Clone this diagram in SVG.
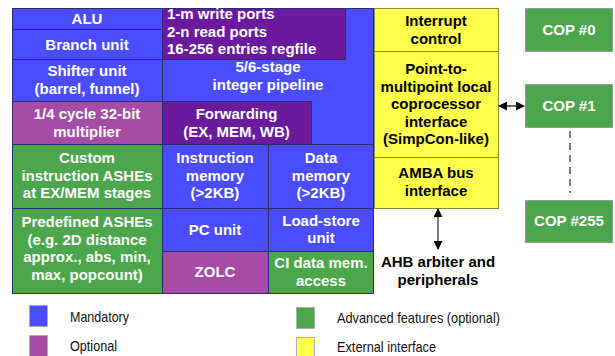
<svg xmlns="http://www.w3.org/2000/svg" width="615" height="356" viewBox="0 0 615 356">
  <defs>
    <style>
      .blk { stroke: #2c2c70; stroke-width: 1; }
      .mand { fill: #4c4cff; }
      .core { fill: #6b1a9e; }
      .opt { fill: #a64ca6; }
      .adv { fill: #4ca64c; }
      .ext { fill: #ffff4c; stroke: #8a8a30; stroke-width: 1; }
      .cop { fill: #4ca64c; stroke: #9a9a9a; stroke-width: 1; }
      .w { font-family: "Liberation Sans", Arial, sans-serif; font-size: 15px; font-weight: bold; fill: #ffffff; text-anchor: middle; }
      .wl { font-family: "Liberation Sans", Arial, sans-serif; font-size: 15px; font-weight: bold; fill: #ffffff; }
      .k { font-family: "Liberation Sans", Arial, sans-serif; font-size: 15px; font-weight: bold; fill: #000000; text-anchor: middle; }
      .lg { font-family: "Liberation Sans", Arial, sans-serif; font-size: 15px; fill: #111111; }
      .sw { stroke: #b0b0b0; stroke-width: 1; }
    </style>
    <marker id="head" viewBox="0 0 10 10" refX="9" refY="5" markerWidth="9" markerHeight="9" markerUnits="userSpaceOnUse" orient="auto-start-reverse">
      <path d="M0,0 L10,5 L0,10 Z" fill="#000000"/>
    </marker>
  </defs>

  <rect width="615" height="356" fill="#ffffff"/>

  <!-- left column -->
  <g id="alu"><rect class="blk mand" x="12.5" y="8.5" width="150" height="21"/><text class="w" x="87" y="24">ALU</text></g>
  <g id="branch"><rect class="blk mand" x="12.5" y="29.5" width="150" height="30"/><text class="w" x="87" y="49.5">Branch unit</text></g>
  <g id="shifter"><rect class="blk mand" x="12.5" y="59.5" width="150" height="42"/><text class="w" x="87" y="76">Shifter unit</text><text class="w" x="87" y="93.5">(barrel, funnel)</text></g>
  <g id="multiplier"><rect class="blk opt" x="12.5" y="101.5" width="150" height="43"/><text class="w" x="87" y="119">1/4 cycle 32-bit</text><text class="w" x="87" y="136.5">multiplier</text></g>
  <g id="custom-ashe"><rect class="blk adv" x="12.5" y="144.5" width="150" height="64"/><text class="w" x="87" y="163">Custom</text><text class="w" x="87" y="180.5">instruction ASHEs</text><text class="w" x="87" y="198">at EX/MEM stages</text></g>
  <g id="predefined-ashe"><rect class="blk adv" x="12.5" y="208.5" width="150" height="85"/><text class="w" x="87" y="227">Predefined ASHEs</text><text class="w" x="87" y="244.5">(e.g. 2D distance</text><text class="w" x="87" y="262">approx., abs, min,</text><text class="w" x="87" y="279.5">max, popcount)</text></g>

  <!-- pipeline area -->
  <g id="pipeline"><rect class="blk mand" x="162.5" y="8.5" width="211" height="136"/><text class="w" x="268" y="72">5/6-stage</text><text class="w" x="268" y="89.5">integer pipeline</text></g>
  <g id="regfile"><rect class="blk core" x="162.5" y="8.5" width="183" height="51"/><text class="wl" x="167" y="19">1-m write ports</text><text class="wl" x="167" y="36.5">2-n read ports</text><text class="wl" x="167" y="54">16-256 entries regfile</text></g>
  <g id="forwarding"><rect class="blk core" x="162.5" y="101.5" width="149" height="43"/><text class="w" x="236.5" y="119">Forwarding</text><text class="w" x="236.5" y="136.5">(EX, MEM, WB)</text></g>

  <!-- memories and units -->
  <g id="imem"><rect class="blk mand" x="162.5" y="144.5" width="106" height="64"/><text class="w" x="215" y="163">Instruction</text><text class="w" x="215" y="180.5">memory</text><text class="w" x="215" y="198">(&gt;2KB)</text></g>
  <g id="dmem"><rect class="blk mand" x="268.5" y="144.5" width="105" height="64"/><text class="w" x="321" y="163">Data</text><text class="w" x="321" y="180.5">memory</text><text class="w" x="321" y="198">(&gt;2KB)</text></g>
  <g id="pc-unit"><rect class="blk mand" x="162.5" y="208.5" width="106" height="43"/><text class="w" x="215" y="234.5">PC unit</text></g>
  <g id="load-store"><rect class="blk mand" x="268.5" y="208.5" width="105" height="43"/><text class="w" x="321" y="225.5">Load-store</text><text class="w" x="321" y="243">unit</text></g>
  <g id="zolc"><rect class="blk opt" x="162.5" y="251.5" width="106" height="42"/><text class="w" x="215" y="276.5">ZOLC</text></g>
  <g id="ci-dmem"><rect class="blk adv" x="268.5" y="251.5" width="105" height="42"/><text class="w" x="321" y="268">CI data mem.</text><text class="w" x="321" y="285.5">access</text></g>

  <!-- external interfaces -->
  <g id="interrupt"><rect class="ext" x="374.5" y="8.5" width="124" height="43"/><text class="k" x="436" y="26">Interrupt</text><text class="k" x="436" y="43.5">control</text></g>
  <g id="simpcon"><rect class="ext" x="374.5" y="51.5" width="124" height="106"/><text class="k" x="436" y="74">Point-to-</text><text class="k" x="436" y="91.5">multipoint local</text><text class="k" x="436" y="109">coprocessor</text><text class="k" x="436" y="126.5">interface</text><text class="k" x="436" y="144">(SimpCon-like)</text></g>
  <g id="amba"><rect class="ext" x="374.5" y="157.5" width="124" height="51"/><text class="k" x="436" y="178">AMBA bus</text><text class="k" x="436" y="195.5">interface</text></g>

  <!-- coprocessors -->
  <g id="cop0"><rect class="cop" x="525.5" y="8.5" width="87" height="43"/><text class="w" x="569" y="34.5">COP #0</text></g>
  <g id="cop1"><rect class="cop" x="525.5" y="84.5" width="87" height="43"/><text class="w" x="569" y="110.5">COP #1</text></g>
  <g id="cop255"><rect class="cop" x="525.5" y="200.5" width="87" height="42"/><text class="w" x="569" y="226">COP #255</text></g>

  <g id="ahb"><text class="k" x="438" y="267">AHB arbiter and</text><text class="k" x="438" y="284.5">peripherals</text></g>

  <!-- connectors -->
  <g id="connectors">
    <line x1="499" y1="106" x2="524" y2="106" stroke="#333333" stroke-width="1.5" marker-start="url(#head)" marker-end="url(#head)"/>
    <line x1="438" y1="209" x2="438" y2="249" stroke="#555555" stroke-width="1.5" marker-start="url(#head)" marker-end="url(#head)"/>
    <line x1="570" y1="131" x2="570" y2="193" stroke="#555555" stroke-width="1.5" stroke-dasharray="7,5"/>
  </g>

  <!-- legend -->
  <g id="legend">
    <rect class="sw mand" x="29.5" y="305.5" width="18" height="21"/>
    <text class="lg" x="70" y="322" textLength="59" lengthAdjust="spacingAndGlyphs">Mandatory</text>
    <rect class="sw opt" x="29.5" y="335.5" width="18" height="22"/>
    <text class="lg" x="70" y="351" textLength="47" lengthAdjust="spacingAndGlyphs">Optional</text>
    <rect class="sw adv" x="296.5" y="307.5" width="18" height="21"/>
    <text class="lg" x="337" y="323" textLength="163" lengthAdjust="spacingAndGlyphs">Advanced features (optional)</text>
    <rect class="sw" fill="#ffff4c" x="296.5" y="337.5" width="18" height="21"/>
    <text class="lg" x="337" y="352" textLength="99" lengthAdjust="spacingAndGlyphs">External interface</text>
  </g>
</svg>
